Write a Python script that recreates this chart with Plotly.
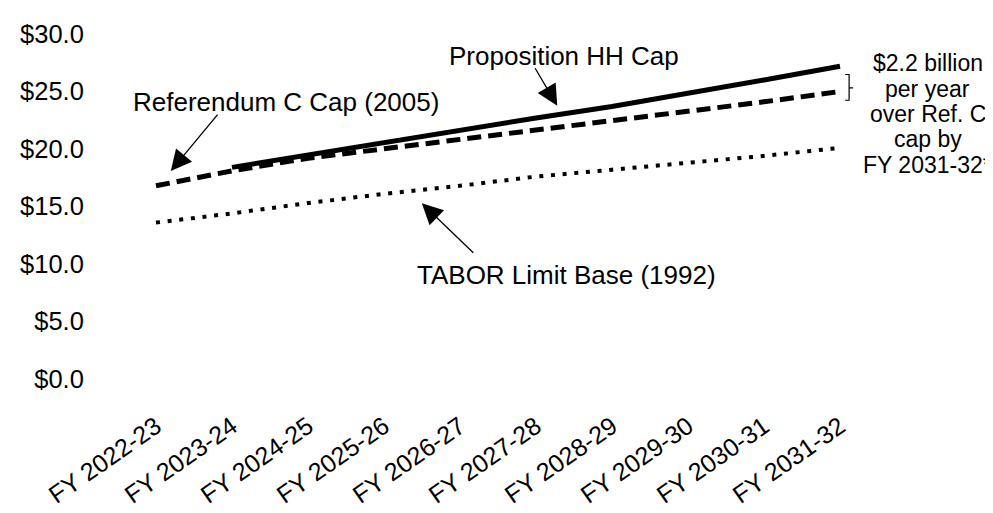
import plotly.graph_objects as go

# ---- data ----
years = ["FY 2022-23", "FY 2023-24", "FY 2024-25", "FY 2025-26", "FY 2026-27",
         "FY 2027-28", "FY 2028-29", "FY 2029-30", "FY 2030-31", "FY 2031-32"]
prop_hh = [None, 18.4, 19.5, 20.6, 21.6, 22.7, 23.7, 24.8, 26.0, 27.2]
ref_c = [16.8, 18.1, 19.2, 20.0, 20.8, 21.7, 22.5, 23.3, 24.1, 25.0]
tabor = [13.6, 14.4, 15.3, 16.1, 16.8, 17.6, 18.2, 18.8, 19.4, 20.1]
y_tickvals = [0, 5, 10, 15, 20, 25, 30]
y_ticktext = ["$0.0", "$5.0", "$10.0", "$15.0", "$20.0", "$25.0", "$30.0"]
side_note = ["$2.2 billion", "per year", "over Ref. C", "cap by", "FY 2031-32*"]

W, H = 993, 513
L, R, T, B = 107, 870, 23, 398  # plot area in pixels
FONT = "Arial, Liberation Sans, sans-serif"


def px(x):
    return (x - L) / (R - L)


def py(y):
    return (B - y) / (B - T)


fig = go.Figure()
fig.add_trace(go.Scatter(x=years, y=tabor, mode="lines", name="TABOR Limit Base (1992)",
                         line=dict(color="black", width=4, dash="4px,7.7px")))
fig.add_trace(go.Scatter(x=years, y=ref_c, mode="lines", name="Referendum C Cap (2005)",
                         line=dict(color="black", width=5, dash="14px,7px")))
fig.add_trace(go.Scatter(x=years, y=prop_hh, mode="lines", name="Proposition HH Cap",
                         line=dict(color="black", width=5)))

annotations = []


def label(text, x, y, size=26):
    annotations.append(dict(text=text, x=px(x), y=py(y), xref="paper", yref="paper",
                            showarrow=False, xanchor="center", yanchor="middle",
                            borderpad=0,
                            font=dict(family=FONT, size=size, color="black")))


def arrow(tail, head):
    annotations.append(dict(text="", x=px(head[0]), y=py(head[1]), xref="paper", yref="paper",
                            ax=tail[0] - head[0], ay=tail[1] - head[1],
                            showarrow=True, arrowhead=2, arrowsize=3.2, arrowwidth=1.3,
                            arrowcolor="black", standoff=0, startstandoff=0))


label("Referendum C Cap (2005)", 276, 97)
label("Proposition HH Cap", 555, 47)
label("TABOR Limit Base (1992)", 557, 285)
arrow((208, 114), (160, 172))
arrow((525, 62), (548, 101))
arrow((465, 258), (412, 207))

for i, line in enumerate(side_note):
    label(line, 920, 55 + 27.5 * i, size=23)

# bracket "}" between the two caps at the final year
shapes = [dict(type="path", xref="paper", yref="paper",
               path=("M {a},{y1} L {b},{y1} L {b},{y2} L {a},{y2} M {b},{ym} L {c},{ym}"
                     .format(a=px(837), b=px(841), c=px(845),
                             y1=py(67), y2=py(95), ym=py(81.5))),
               line=dict(color="black", width=1.2))]

fig.update_layout(
    width=W, height=H,
    margin=dict(l=L, r=W - R, t=T, b=H - B),
    paper_bgcolor="white", plot_bgcolor="white",
    showlegend=False,
    font=dict(family=FONT, color="black"),
    annotations=annotations,
    shapes=shapes,
    xaxis=dict(type="category", range=[-0.5, 9.5], showgrid=False, zeroline=False,
               showline=False, ticks="outside", ticklen=22, tickcolor="rgba(0,0,0,0)",
               tickangle=-35, tickfont=dict(family=FONT, size=25, color="black")),
    yaxis=dict(range=[0, 30], showgrid=False, zeroline=False, showline=False,
               tickvals=y_tickvals, ticktext=y_ticktext,
               ticks="outside", ticklen=28, tickcolor="rgba(0,0,0,0)",
               tickfont=dict(family=FONT, size=25.5, color="black")),
)

fig.write_html("out.html")
